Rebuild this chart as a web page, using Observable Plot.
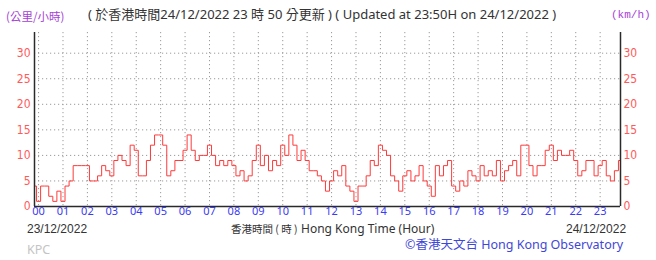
<!DOCTYPE html>
<html>
<head>
<meta charset="utf-8">
<script src="https://cdn.jsdelivr.net/npm/d3@7"></script>
<script src="https://cdn.jsdelivr.net/npm/@observablehq/plot@0.6"></script>
<style>
  body { margin: 0; background: #fff; }
  #wrap { position: relative; width: 656px; height: 260px; overflow: hidden; font-family: "Liberation Sans", "Noto Sans CJK TC", sans-serif; }
  #wrap svg { position: absolute; left: 0; top: 0; }
  .t { position: absolute; white-space: nowrap; line-height: 1; }
</style>
</head>
<body>
<div id="wrap">
  <div class="t" id="unitL" style="left:6px; top:11px; font-size:11.5px; color:#a53fd6; font-family:'Noto Sans CJK TC',sans-serif;">(公里/小時)</div>
  <div class="t" id="title" style="left:88px; top:8px; font-size:13px; color:#333; font-family:'Noto Sans','Noto Sans CJK TC',sans-serif;">( 於香港時間24/12/2022 23 時 50 分更新 ) ( Updated at 23:50H on 24/12/2022 )</div>
  <div class="t" id="unitR" style="left:611px; top:10px; font-size:11px; color:#a53fd6; font-family:'Liberation Mono',monospace;">(km/h)</div>
  <div class="t" style="left:27px; top:223px; font-size:12px; color:#333;">23/12/2022</div>
  <div class="t" style="left:231px; top:223px; font-size:12px; color:#333;"><span style="font-size:10.5px; font-family:'Noto Sans CJK TC',sans-serif;">香港時間 ( 時 )</span> <span style="font-family:'Noto Sans',sans-serif;">Hong Kong Time (Hour)</span></div>
  <div class="t" style="left:566px; top:223px; font-size:12px; color:#333;">24/12/2022</div>
  <div class="t" style="left:27px; top:244px; font-size:12.5px; color:#c4c4c4; font-family:'Noto Sans',sans-serif;">KPC</div>
  <div class="t" style="left:405px; top:239px; font-size:12.5px; color:#3f48d6; font-family:'Noto Sans','Noto Sans CJK TC',sans-serif;">©香港天文台 Hong Kong Observatory</div>
</div>
<script>
// 10-minute mean wind speed (km/h), starting 23:50 on 23/12/2022, ending 23:50 on 24/12/2022
const startValue = [4];
const hour00 = [1, 4, 4, 2, 1, 3];
const hour01 = [1, 4, 5, 8, 8, 8];
const hour02 = [8, 5, 5, 6, 8, 7];
const hour03 = [6, 9, 10, 9, 8, 12];
const hour04 = [11, 6, 6, 9, 12, 14];
const hour05 = [14, 12, 6, 7, 9, 9];
const hour06 = [11, 14, 11, 9, 10, 10];
const hour07 = [12, 10, 8, 9, 8, 9];
const hour08 = [8, 6, 7, 5, 6, 9];
const hour09 = [12, 8, 10, 7, 9, 8];
const hour10 = [12, 10, 14, 12, 9, 11];
const hour11 = [9, 7, 7, 6, 5, 3];
const hour12 = [5, 7, 6, 8, 4, 3];
const hour13 = [1, 4, 4, 6, 9, 8];
const hour14 = [12, 11, 10, 6, 5, 3];
const hour15 = [6, 7, 5, 6, 8, 5];
const hour16 = [4, 2, 8, 6, 8, 9];
const hour17 = [4, 3, 5, 4, 7, 6];
const hour18 = [5, 8, 6, 7, 6, 9];
const hour19 = [5, 7, 8, 9, 6, 12];
const hour20 = [12, 8, 6, 8, 8, 11];
const hour21 = [12, 9, 11, 10, 10, 11];
const hour22 = [9, 6, 7, 9, 9, 6];
const hour23 = [8, 9, 6, 5, 7, 9];

const hourLabels = ["00","01","02","03","04","05","06","07","08","09","10","11","12","13","14","15","16","17","18","19","20","21","22","23"];
const yTickValues = [0, 5, 10, 15, 20, 25, 30];

const speeds = [].concat(startValue, hour00, hour01, hour02, hour03, hour04, hour05, hour06, hour07,
  hour08, hour09, hour10, hour11, hour12, hour13, hour14, hour15, hour16, hour17, hour18, hour19,
  hour20, hour21, hour22, hour23);
// time in hours from 00:00 of 24/12/2022 (first reading at 23:50 the previous day)
const data = speeds.map((v, i) => ({ t: (i - 1) / 6, v }));
const hourTicks = hourLabels.map((_, i) => i);
const xDomain = [-1 / 6, 23 + 5 / 6];

const chart = Plot.plot({
  width: 656,
  height: 260,
  marginLeft: 34,
  marginRight: 36,
  marginTop: 32,
  marginBottom: 54,
  style: { background: "transparent", overflow: "visible" },
  x: { domain: xDomain },
  y: { domain: [0, 34.05] },
  marks: [
    Plot.gridX(hourTicks, { stroke: "#9a9a9a", strokeOpacity: 1, strokeWidth: 1, strokeDasharray: "1.2,2.8" }),
    Plot.gridY(yTickValues.slice(1), { stroke: "#9a9a9a", strokeOpacity: 1, strokeWidth: 1, strokeDasharray: "1.2,2.8" }),
    Plot.line(data, { x: "t", y: "v", curve: "step", stroke: "#ff3a3a", strokeWidth: 1 }),
    Plot.ruleY([0], { stroke: "#2a2a2a", strokeWidth: 1.5 }),
    Plot.ruleX([xDomain[0], xDomain[1]], { stroke: "#2a2a2a", strokeWidth: 1.5 }),
    Plot.axisX(hourTicks, {
      tickSize: 0, tickPadding: 1, label: null,
      tickFormat: (d) => hourLabels[d],
      fill: "#3b3bf5", fontSize: 11, fontFamily: "Noto Sans, sans-serif"
    }),
    Plot.axisY(yTickValues, {
      anchor: "left", tickSize: 0, tickPadding: 4, label: null,
      fill: "#ff5a5a", fontSize: 12, fontFamily: "Liberation Sans Narrow, DejaVu Sans Condensed, sans-serif"
    }),
    Plot.axisY(yTickValues, {
      anchor: "right", tickSize: 0, tickPadding: 3, label: null,
      fill: "#ff5a5a", fontSize: 12, fontFamily: "Liberation Sans Narrow, DejaVu Sans Condensed, sans-serif"
    })
  ]
});
document.getElementById("wrap").prepend(chart);
</script>
</body>
</html>
